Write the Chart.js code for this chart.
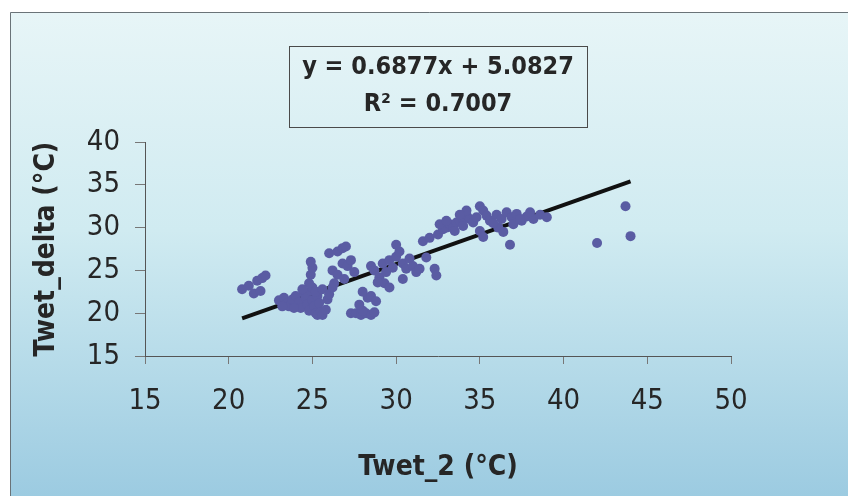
<!DOCTYPE html>
<html>
<head>
<meta charset="utf-8">
<script src="https://cdn.jsdelivr.net/npm/chart.js@4"></script>
<style>
  html, body { margin: 0; padding: 0; background: #fff; }
  #wrap { width: 848px; height: 496px; position: relative; }
</style>
</head>
<body>
<div id="wrap"><canvas id="myChart" width="848" height="496"></canvas></div>
<script>
// measured points, Twet_2 (x) vs Twet_delta (y)
const twet2 = [
    20.8, 21.2, 21.5, 21.7, 22.0, 22.2, 21.9,
    23.0, 23.3, 23.5, 23.6, 23.8, 24.0, 24.2, 24.3, 24.5, 24.6, 24.7, 24.8, 24.9,
    25.0, 25.1, 25.2, 25.3, 25.5, 25.6, 25.8, 25.3, 25.0, 24.8, 24.9, 25.0, 24.9,
    25.2, 25.6, 25.9, 26.0, 26.2, 25.4, 23.2, 23.9, 24.4,
    26.0, 26.5, 26.8, 27.0, 26.2, 26.5, 26.8, 27.1, 26.9, 27.3, 26.3, 27.5,
    27.3, 27.6, 27.9, 28.2, 28.5, 28.7, 28.0, 27.8, 28.3, 28.0, 28.5, 28.8,
    28.5, 28.7, 29.0, 29.2, 29.4, 29.6, 29.8, 30.0, 30.2, 30.0, 30.4, 30.6, 30.8,
    31.0, 31.2, 31.4, 31.8, 31.6, 32.0, 32.3, 32.4, 29.3, 29.6, 30.4, 28.9,
    32.5, 32.8, 33.0, 33.2, 33.4, 33.6, 33.8, 34.0, 34.2, 34.4, 34.6, 34.8,
    35.0, 35.2, 35.4, 35.6, 32.6, 33.0, 33.5, 34.0, 35.0, 35.2, 34.2, 33.8,
    36.0, 36.3, 36.6, 36.9, 37.2, 37.5, 37.8, 38.2, 38.6, 39.0, 36.1, 36.4,
    36.8, 37.0, 35.8, 38.0, 37.4,
    42.0, 43.7, 44.0
]
const twetDelta = [
    22.8, 23.2, 22.3, 23.8, 24.1, 24.4, 22.6,
    21.5, 21.8, 21.2, 20.8, 21.6, 22.0, 21.3, 20.6, 22.3, 21.8, 21.0, 20.3, 22.6,
    21.5, 20.8, 20.0, 19.8, 20.2, 19.8, 20.4, 22.0, 23.0, 23.5, 24.5, 25.3, 26.0,
    22.5, 22.8, 21.6, 22.2, 23.0, 21.2, 20.8, 20.6, 22.8,
    27.0, 27.2, 27.6, 27.8, 25.0, 24.5, 25.8, 25.5, 24.0, 26.2, 23.5, 24.8,
    20.0, 20.0, 19.8, 20.0, 19.8, 20.1, 20.3, 21.0, 21.8, 22.5, 22.0, 21.4,
    25.5, 25.0, 24.2, 25.8, 24.8, 26.2, 25.3, 26.6, 27.2, 28.0, 25.8, 25.2, 26.4,
    25.5, 24.8, 25.2, 26.5, 28.4, 28.8, 25.2, 24.4, 23.5, 23.0, 24.0, 23.6,
    29.2, 29.8, 30.0, 30.4, 30.0, 30.6, 30.8, 31.0, 31.5, 31.0, 30.6, 31.2,
    32.5, 32.0, 31.4, 30.8, 30.4, 30.8, 29.6, 30.2, 29.6, 28.9, 32.0, 31.5,
    31.5, 31.0, 31.8, 31.2, 31.6, 30.8, 31.3, 31.0, 31.5, 31.2, 30.0, 29.5,
    28.0, 30.4, 30.5, 31.8, 31.0,
    28.2, 32.5, 29.0
]
// trend line end points as drawn
const trendX = [20.8, 44.0]
const trendY = [19.4, 35.4]

const xTicks = [15, 20, 25, 30, 35, 40, 45, 50]
const yTicks = [15, 20, 25, 30, 35, 40]
const equationText = "y = 0.6877x + 5.0827"
const r2Text = "R\u00B2 = 0.7007"

const fontFam = '"DejaVu Sans Condensed", "DejaVu Sans", sans-serif'
const textCol = "#262626"

const bgPlugin = {
    id: "bg",
    beforeDraw(chart) {
        const ctx = chart.ctx
        ctx.save()
        ctx.fillStyle = "#ffffff"
        ctx.fillRect(0, 0, chart.width, chart.height)
        const g = ctx.createLinearGradient(0, 12, 0, chart.height)
        g.addColorStop(0, "#e7f5f7")
        g.addColorStop(0.45, "#d0ebf1")
        g.addColorStop(1, "#9ccbe1")
        ctx.fillStyle = g
        ctx.fillRect(10, 12, chart.width - 10, chart.height - 12)
        ctx.strokeStyle = "#6a7378"
        ctx.lineWidth = 1
        ctx.beginPath()
        ctx.moveTo(10.5, chart.height)
        ctx.lineTo(10.5, 12.5)
        ctx.lineTo(chart.width, 12.5)
        ctx.stroke()
        ctx.restore()
    },
}

const equationPlugin = {
    id: "equation",
    afterDraw(chart) {
        const ctx = chart.ctx
        ctx.save()
        ctx.strokeStyle = "#4a4a4a"
        ctx.lineWidth = 1
        ctx.strokeRect(289.5, 46.5, 298, 81)
        ctx.fillStyle = textCol
        ctx.font = "bold 25px " + fontFam
        ctx.textAlign = "center"
        ctx.textBaseline = "middle"
        ctx.fillText(equationText, 438, 67)
        ctx.fillText(r2Text, 438, 104)
        ctx.restore()
    },
}

const canvasChart = document.getElementById("myChart").getContext("2d")

const myChart = new Chart(canvasChart, {
    type: "scatter",
    data: {
        datasets: [
            {
                label: "Twet_delta",
                data: twet2.map((x, i) => ({ x: x, y: twetDelta[i] })),
                backgroundColor: "#5a5ca3",
                borderColor: "#5a5ca3",
                pointStyle: "circle",
                pointRadius: 5,
                borderWidth: 0,
            },
            {
                label: "Trend",
                type: "line",
                data: trendX.map((x, i) => ({ x: x, y: trendY[i] })),
                borderColor: "#111111",
                borderWidth: 4,
                pointRadius: 0,
                fill: false,
            },
        ],
    },
    options: {
        responsive: false,
        animation: false,
        events: [],
        layout: {
            padding: { left: 0, right: 117, top: 142, bottom: 0 },
        },
        plugins: {
            legend: { display: false },
            tooltip: { enabled: false },
        },
        scales: {
            x: {
                type: "linear",
                min: 15,
                max: 50,
                afterBuildTicks: (axis) => {
                    axis.ticks = xTicks.map((v) => ({ value: v }))
                },
                afterFit: (scale) => {
                    scale.height = 140
                },
                border: { color: "#555555", width: 1 },
                grid: {
                    drawOnChartArea: false,
                    drawTicks: true,
                    tickLength: 8,
                    color: "#777777",
                },
                ticks: {
                    color: textCol,
                    padding: 20,
                    maxRotation: 0,
                    font: { family: fontFam, size: 29 },
                },
                title: {
                    display: true,
                    text: "Twet_2 (\u00B0C)",
                    color: textCol,
                    padding: { top: 0, bottom: 11 },
                    font: { family: fontFam, size: 28, weight: "bold" },
                },
            },
            y: {
                type: "linear",
                min: 15,
                max: 40,
                afterBuildTicks: (axis) => {
                    axis.ticks = yTicks.map((v) => ({ value: v }))
                },
                afterFit: (scale) => {
                    scale.width = 145
                },
                border: { color: "#555555", width: 1 },
                grid: {
                    drawOnChartArea: false,
                    drawTicks: true,
                    tickLength: 10,
                    color: "#777777",
                },
                ticks: {
                    color: textCol,
                    padding: 15,
                    font: { family: fontFam, size: 29 },
                },
                title: {
                    display: true,
                    text: "Twet_delta (\u00B0C)",
                    color: textCol,
                    padding: { top: 30, bottom: 0 },
                    font: { family: fontFam, size: 28, weight: "bold" },
                },
            },
        },
    },
    plugins: [bgPlugin, equationPlugin],
})
</script>
</body>
</html>
